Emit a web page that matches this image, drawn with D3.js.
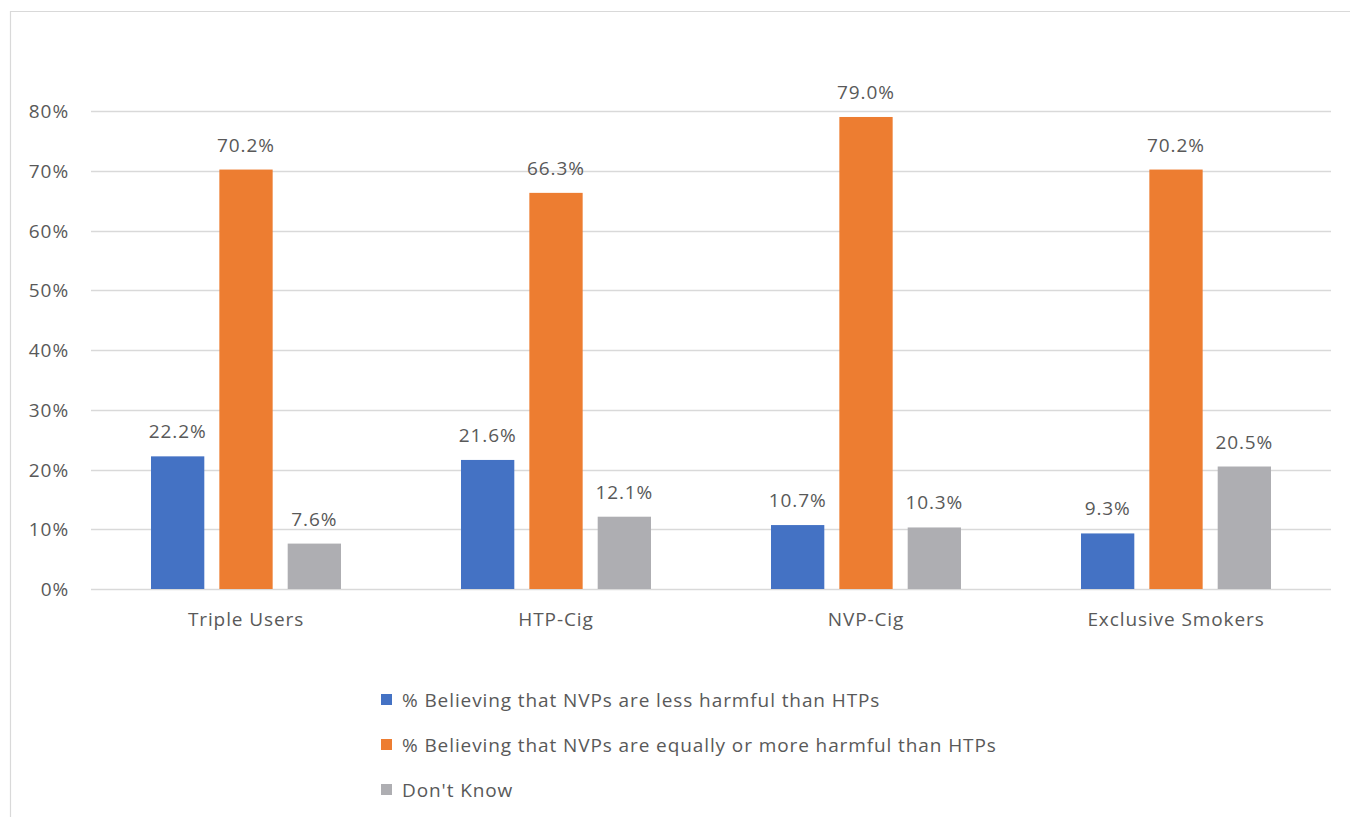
<!DOCTYPE html>
<html><head><meta charset="utf-8">
<script src="https://cdn.jsdelivr.net/npm/d3@7"></script>
<style>body{margin:0;background:#fff;} svg{display:block;} text{font-family:"Open Sans", sans-serif;}</style>
</head><body>
<svg id="c" width="1350" height="817"></svg>
<script>
const categories = ["Triple Users", "HTP-Cig", "NVP-Cig", "Exclusive Smokers"];
const seriesNames = ["% Believing that NVPs are less harmful than HTPs",
  "% Believing that NVPs are equally or more harmful than HTPs",
  "Don't Know"];
const lessHarmful = [22.2, 21.6, 10.7, 9.3];
const equallyMore = [70.2, 66.3, 79.0, 70.2];
const dontKnow = [7.6, 12.1, 10.3, 20.5];
const seriesValues = [lessHarmful, equallyMore, dontKnow];
const colors = ["#4472C4", "#ED7D31", "#AEAEB2"];
const yTicks = [0, 10, 20, 30, 40, 50, 60, 70, 80];

(function(){
const FONT = '"Open Sans", sans-serif';
const FS = 19;
const LS = "0.9px";
const svg = d3.select("#c");
svg.append("path").attr("d", "M10.5,817 L10.5,11.5 L1350,11.5").attr("fill","none").attr("stroke","#d9d9d9").attr("stroke-width",1.2);

const pl = 91, pr = 1331, pt = 111, pb = 589;
const y = d3.scaleLinear().domain([0, 80]).range([pb, pt]);
const x0 = d3.scaleBand().domain(categories).range([pl, pr]).paddingInner(0).paddingOuter(0);
const x1 = d3.scaleBand().domain(d3.range(3)).range([60, x0.bandwidth()-60]).paddingInner(0.22).paddingOuter(0);

svg.append("g").selectAll("line").data(yTicks).join("line")
  .attr("x1", pl).attr("x2", pr)
  .attr("y1", d => Math.round(y(d)) + 0.5).attr("y2", d => Math.round(y(d)) + 0.5)
  .attr("stroke", "#d9d9d9").attr("stroke-width", 1.3);

const yAxis = d3.axisLeft(y).tickValues(yTicks).tickFormat(d => d + "%").tickSize(0).tickPadding(0);
const ga = svg.append("g").attr("transform", `translate(69,0)`).call(yAxis);
ga.select(".domain").remove();
ga.selectAll("text").attr("font-size", FS).attr("fill", "#595959").attr("font-family", FONT).attr("dy","0.35em").attr("letter-spacing", LS);

const groups = svg.append("g").selectAll("g").data(categories).join("g")
  .attr("transform", d => `translate(${x0(d)},0)`);
groups.selectAll("rect").data((d, i) => seriesValues.map((s, k) => ({k, v: s[i]}))).join("rect")
  .attr("x", d => x1(d.k)).attr("width", x1.bandwidth())
  .attr("y", d => y(d.v)).attr("height", d => y(0) - y(d.v))
  .attr("fill", d => colors[d.k]);
groups.selectAll("text.val").data((d, i) => seriesValues.map((s, k) => ({k, v: s[i]}))).join("text")
  .attr("class","val")
  .attr("x", d => x1(d.k) + x1.bandwidth()/2).attr("y", d => y(d.v) - 18)
  .attr("text-anchor", "middle").attr("font-size", FS).attr("fill", "#595959").attr("letter-spacing", LS)
  .text(d => d.v.toFixed(1) + "%");

const xAxis = d3.axisBottom(x0).tickSize(0).tickPadding(0);
const gx = svg.append("g").attr("transform", `translate(0,${pb})`).call(xAxis);
gx.select(".domain").remove();
gx.selectAll("text").attr("font-size", FS).attr("fill", "#595959").attr("font-family", FONT).attr("dy", null).attr("y", 37).attr("letter-spacing", LS);

const lg = svg.append("g").attr("transform", "translate(381,0)");
const rows = lg.selectAll("g").data(seriesNames).join("g").attr("transform", (d, i) => `translate(0,${700 + i*45})`);
rows.append("rect").attr("x", 0).attr("y", -6).attr("width", 11).attr("height", 11).attr("fill", (d, i) => colors[i]);
rows.append("text").attr("x", 21).attr("y", 0).attr("dy", "0.35em").attr("font-size", FS).attr("fill", "#595959").attr("letter-spacing", LS).text(d => d);
})();
</script>
</body></html>
